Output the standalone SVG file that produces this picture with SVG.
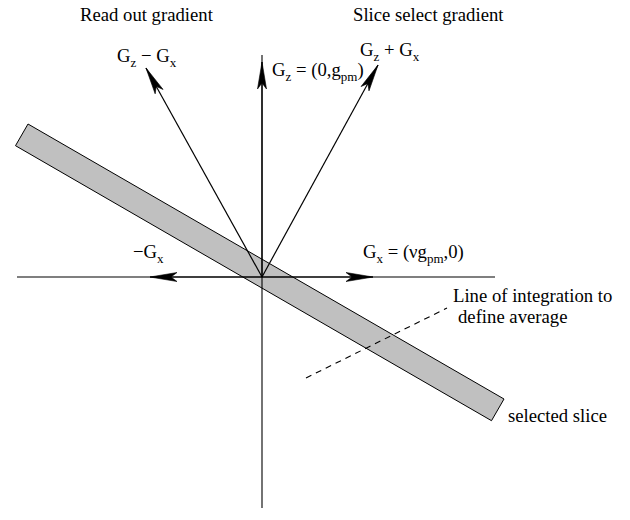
<svg xmlns="http://www.w3.org/2000/svg" width="630" height="520" viewBox="0 0 630 520">
<defs>
<style>
text{font-family:"Liberation Serif","Times New Roman",serif;font-size:18.7px;fill:#000}
.sub{font-size:13px}
.ln{stroke:#000;stroke-width:1.1;fill:none}
.ar{stroke:#000;stroke-width:1.2;fill:none;marker-end:url(#ah)}
</style>
<marker id="ah" markerUnits="userSpaceOnUse" markerWidth="32" markerHeight="12" viewBox="-30 -6 32 12" refX="0" refY="0" orient="auto" overflow="visible">
<path d="M0,0 L-27,-4.5 L-21,0 L-27,4.5 Z" fill="#000" stroke="#000" stroke-width="0.6"/>
</marker>
</defs>
<rect width="630" height="520" fill="#fff"/>
<g id="slice">
<polygon points="28,124 504,399 491.5,420.7 15.5,145.7" fill="#c0c0c0" stroke="#000" stroke-width="1"/>
</g>
<g id="connectors">
<line class="ln" x1="17" y1="277" x2="495" y2="277"/>
<line class="ln" x1="262" y1="55" x2="262" y2="508"/>
<line class="ar" x1="262" y1="277" x2="262" y2="62"/>
<line class="ar" x1="262" y1="277" x2="146" y2="68"/>
<line class="ar" x1="262" y1="277" x2="378" y2="65"/>
<line class="ar" x1="262" y1="277" x2="373" y2="277"/>
<line class="ar" x1="262" y1="277" x2="150" y2="277"/>
<line class="ln" x1="306" y1="378" x2="447" y2="308" stroke-dasharray="6,5"/>
</g>
<g id="labels">
<text id="readout" x="80" y="21">Read out gradient</text>
<text id="sliceselect" x="353" y="21">Slice select gradient</text>
<text id="gzmgx" x="117" y="62">G<tspan class="sub" dy="5">z</tspan><tspan dy="-5"> − G</tspan><tspan class="sub" dy="5">x</tspan></text>
<text id="gz" x="272" y="76">G<tspan class="sub" dy="5">z</tspan><tspan dy="-5"> = (0,g</tspan><tspan class="sub" dy="5">pm</tspan><tspan dy="-5">)</tspan></text>
<text id="gzpgx" x="360" y="56">G<tspan class="sub" dy="5">z</tspan><tspan dy="-5">  + G</tspan><tspan class="sub" dy="5">x</tspan></text>
<text id="mgx" x="133" y="258">−G<tspan class="sub" dy="5">x</tspan></text>
<text id="gx" x="363" y="258">G<tspan class="sub" dy="5">x</tspan><tspan dy="-5"> = (νg</tspan><tspan class="sub" dy="5">pm</tspan><tspan dy="-5">,0)</tspan></text>
<text id="line1" x="453" y="302">Line of integration to</text>
<text id="line2" x="458" y="323">define average</text>
<text id="selslice" x="508" y="422">selected slice</text>
</g>
</svg>
